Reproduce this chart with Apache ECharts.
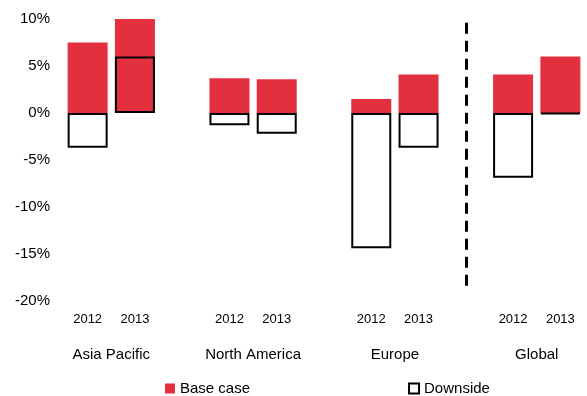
<!DOCTYPE html>
<html>
<head>
<meta charset="utf-8">
<script src="https://cdn.jsdelivr.net/npm/echarts@6/dist/echarts.min.js"></script>
<style>
html,body{margin:0;padding:0;background:#fff;}
#chart{width:587px;height:396px;}
</style>
</head>
<body>
<div id="chart"></div>
<script>
var regions = ['Asia Pacific', 'North America', 'Europe', 'Global'];
var years = ['2012', '2013'];
// values per region, 2012 then 2013 (%)
var baseCase = [7.5, 10.0, 3.7, 3.6, 1.5, 4.1, 4.1, 6.0];
var downside = [-3.7, 6.0, -1.3, -2.2, -14.4, -3.7, -6.9, -0.1];
var yTicks = { min: -20, max: 10, step: 5 };

// slots: two years per region, an empty slot between regions
var cats = [], baseData = [], downData = [], regionSlots = [];
regions.forEach(function (r, i) {
    years.forEach(function (y, j) {
        cats.push(y);
        baseData.push(baseCase[i * 2 + j]);
        downData.push(downside[i * 2 + j]);
    });
    if (i < regions.length - 1) {
        cats.push('gap');
        baseData.push('-');
        downData.push('-');
    }
});
// half-slot positions for the region names
for (var k = 0; k <= cats.length * 2; k++) regionSlots.push('');
regions.forEach(function (r, i) { regionSlots[2 + i * 6] = r; });
var dividerAt = cats.length - 3;

var chart = echarts.init(document.getElementById('chart'));
chart.setOption({
    animation: false,
    textStyle: { fontFamily: 'Liberation Sans, Arial, sans-serif' },
    grid: { left: 64, right: 0, top: 19, bottom: 95 },
    legend: {
        left: 160,
        top: 376,
        icon: 'rect',
        itemWidth: 10,
        itemHeight: 10,
        itemGap: 158,
        textStyle: { fontSize: 15, color: '#000' },
        data: ['Base case', 'Downside']
    },
    xAxis: [{
        type: 'category',
        data: cats,
        axisLine: { show: false },
        axisTick: { show: false },
        axisLabel: {
            interval: 0,
            margin: 12,
            fontSize: 13,
            color: '#000',
            formatter: function (v) { return v === 'gap' ? '' : v; }
        }
    }, {
        type: 'category',
        data: regionSlots,
        boundaryGap: false,
        position: 'bottom',
        axisLine: { show: false },
        axisTick: { show: false },
        axisLabel: { interval: 0, margin: 46, fontSize: 15, color: '#000' }
    }],
    yAxis: {
        type: 'value',
        min: yTicks.min,
        max: yTicks.max,
        interval: yTicks.step,
        axisLine: { show: false },
        axisTick: { show: false },
        splitLine: { show: false },
        axisLabel: { fontSize: 15, color: '#000', margin: 14, formatter: '{value}%' }
    },
    series: [{
        name: 'Base case',
        type: 'bar',
        barWidth: 40,
        barGap: '-100%',
        itemStyle: { color: '#e3303f' },
        data: baseData,
        markLine: {
            silent: true,
            symbol: 'none',
            label: { show: false },
            lineStyle: { color: '#000', type: [11, 7], width: 3 },
            data: [[{ coord: [dividerAt, 9.6] }, { coord: [dividerAt, -19.0] }]]
        }
    }, {
        name: 'Downside',
        type: 'bar',
        barWidth: 40,
        barGap: '-100%',
        itemStyle: { color: 'rgba(255,255,255,0)', borderColor: '#000', borderWidth: 2 },
        data: downData
    }]
});
</script>
</body>
</html>
